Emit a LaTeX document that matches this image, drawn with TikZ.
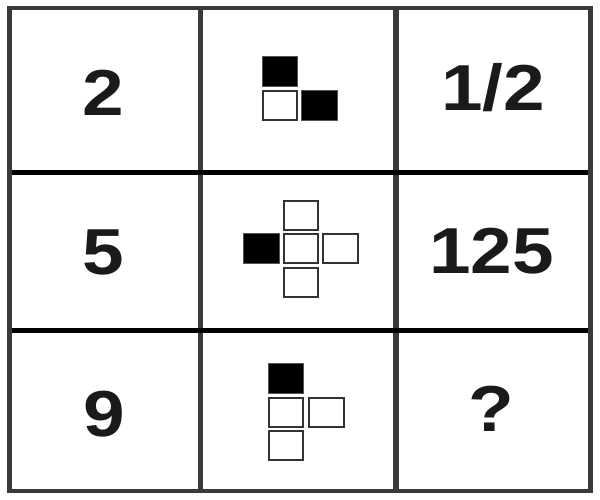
\documentclass[tikz,border=0pt]{standalone}
\usepackage{fontspec}
\setmainfont{Liberation Sans}
\definecolor{gridgray}{HTML}{3A3A3A}
\definecolor{txt}{HTML}{1A1A1A}
\definecolor{sqedge}{HTML}{333333}
\definecolor{bedge}{HTML}{555555}
\begin{document}
\begin{tikzpicture}[x=1pt,y=-1pt,
  numtxt/.style={anchor=base,inner sep=0pt,text=txt,font=\fontsize{65}{65}\selectfont\bfseries},
  wsq/.style={draw=sqedge,line width=2pt,fill=white,minimum width=34.6pt,minimum height=29pt,inner sep=0pt,outer sep=0pt},
  bsq/.style={draw=bedge,line width=1pt,fill=black,minimum width=35.6pt,minimum height=30pt,inner sep=0pt,outer sep=0pt}]
\useasboundingbox (0,0) rectangle (600,500);
\fill[white] (0,0) rectangle (600,500);
% grid
\draw[gridgray,line width=5.5pt] (200.5,8) -- (200.5,491);
\draw[gridgray,line width=5.5pt] (396,8) -- (396,491);
\draw[black,line width=5pt] (9.5,172.8) -- (590.5,172.8);
\draw[black,line width=5pt] (9.5,330.5) -- (590.5,330.5);
\draw[gridgray,line width=4.5pt] (9.5,8) rectangle (590.5,491);
% numbers
\node[numtxt] (n2) at (103.3,115.7) {\scalebox{1.15}[1]{2}};
\node[numtxt] (nhalf) at (493.3,110.7) {\scalebox{1.15}[1]{1/2}};
\node[numtxt] (n5) at (103.3,274) {\scalebox{1.15}[1]{5}};
\node[numtxt] (n125) at (491.7,273.5) {\scalebox{1.15}[1]{125}};
\node[numtxt] (n9) at (104.3,436) {\scalebox{1.15}[1]{9}};
\node[numtxt] (nq) at (491.7,431) {\scalebox{1.15}[1]{?}};
% figure row 1
\node[bsq] (a1) at (280,71.5) {};
\node[wsq] (a2) at (280,105.5) {};
\node[bsq] (a3) at (319.2,105.5) {};
% figure row 2
\node[wsq] (b1) at (301,215.3) {};
\node[bsq] (b2) at (261.3,248.7) {};
\node[wsq] (b3) at (301,248.7) {};
\node[wsq] (b4) at (340.2,248.7) {};
\node[wsq] (b5) at (301,282) {};
% figure row 3
\node[bsq] (c1) at (286,378.3) {};
\node[wsq] (c2) at (286,412) {};
\node[wsq] (c3) at (326.2,412) {};
\node[wsq] (c4) at (286,445) {};
\end{tikzpicture}
\end{document}
